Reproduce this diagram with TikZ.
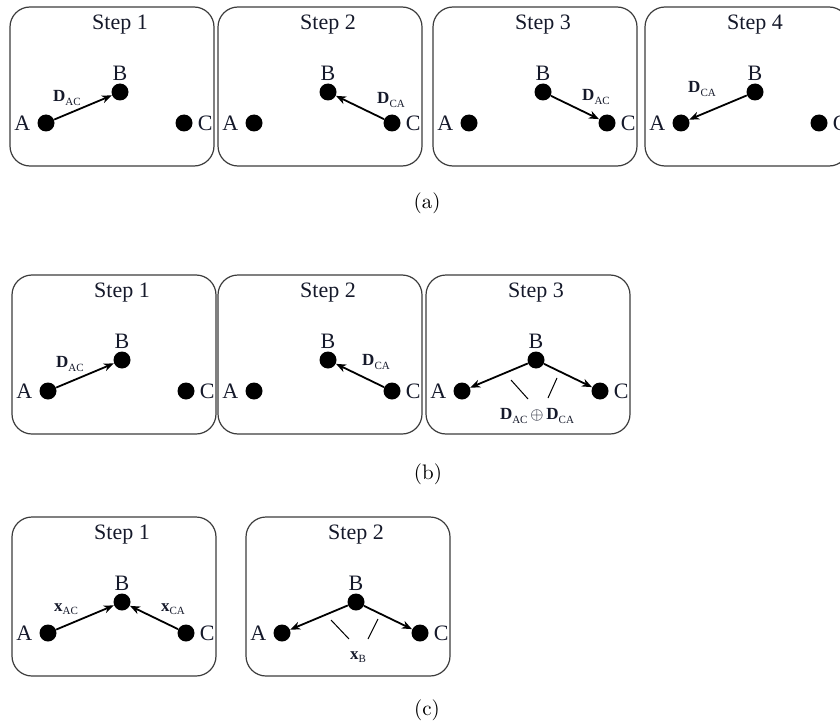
\documentclass[tikz,border=0pt]{standalone}
\usepackage{fontspec}
\newfontfamily\figfont{Liberation Serif}
\usepackage{xcolor}
\definecolor{ink}{HTML}{15192A}
\definecolor{frame}{HTML}{3C3C3C}
\usepackage{tikz}
\usetikzlibrary{calc,arrows.meta}
\newcommand{\vsub}[2]{\textbf{#1}\raisebox{-0.45ex}{\fontsize{5.5}{6}\selectfont #2}}

\begin{document}
\begin{tikzpicture}[x=0.5pt, y=-0.5pt,
    panel/.style={draw=frame, line width=0.6pt, rounded corners=10pt},
    dot/.style={circle, fill=black, inner sep=0pt, minimum size=8.5pt},
    tag/.style={font=\figfont\fontsize{11}{13}\selectfont, text=ink, inner sep=1pt},
    flow/.style={line width=0.9pt, -{Stealth[length=5pt, width=4pt, inset=1.5pt]}},
    vlab/.style={font=\figfont\fontsize{8.5}{10}\selectfont, text=ink, inner sep=0pt},
    tick/.style={line width=0.5pt}]
  \useasboundingbox (0,0) rectangle (840,722);

  % panels: name / step / left / top
  \foreach \id/\st/\xpos/\ypos in {a1/1/10/7, a2/2/218/7, a3/3/433/7, a4/4/645/7,
      b1/1/12/275, b2/2/218/275, b3/3/426/275, c1/1/12/517, c2/2/246/517} {
    \begin{scope}[shift={(\xpos,\ypos)}]
      \draw[panel] (0,0) rectangle (204,159);
      \node[tag] (\id-title) at (110,18) {Step \st};
      \node[dot, label={[tag, label distance=2.2pt]left:A}] (\id-A) at (36,116) {};
      \node[dot, label={[tag, label distance=0pt]above:B}] (\id-B) at (110,85) {};
      \node[dot, label={[tag, label distance=1.3pt]right:C}] (\id-C) at (174,116) {};
    \end{scope}
  }

  % (a) four single transfers
  \draw[flow] (a1-A) -- (a1-B);
  \node[vlab] (a1-lab) at ($(a1-A)+(21,-25)$) {\vsub{D}{AC}};
  \draw[flow] (a2-C) -- (a2-B);
  \node[vlab] (a2-lab) at ($(a2-C)+(-1,-23)$) {\vsub{D}{CA}};
  \draw[flow] (a3-B) -- (a3-C);
  \node[vlab] (a3-lab) at ($(a3-C)+(-11,-26)$) {\vsub{D}{AC}};
  \draw[flow] (a4-B) -- (a4-A);
  \node[vlab] (a4-lab) at ($(a4-A)+(21,-34)$) {\vsub{D}{CA}};

  % (b) XOR broadcast in step 3
  \draw[flow] (b1-A) -- (b1-B);
  \node[vlab] (b1-lab) at ($(b1-A)+(22,-27)$) {\vsub{D}{AC}};
  \draw[flow] (b2-C) -- (b2-B);
  \node[vlab] (b2-lab) at ($(b2-C)+(-16,-29)$) {\vsub{D}{CA}};
  \draw[flow] (b3-B) -- (b3-A);
  \draw[flow] (b3-B) -- (b3-C);
  \draw[tick] ($(b3-B)+(-25,20)$) -- ($(b3-B)+(-8,39)$);
  \draw[tick] ($(b3-B)+(21,18)$) -- ($(b3-B)+(12,38)$);
  \node[vlab] (b3-lab) at ($(b3-B)+(1,56)$) {\vsub{D}{AC}\,$\oplus$\,\vsub{D}{CA}};

  % (c) simultaneous uplink, then broadcast
  \draw[flow] (c1-A) -- (c1-B);
  \draw[flow] (c1-C) -- (c1-B);
  \node[vlab] (c1-labA) at ($(c1-A)+(18,-24)$) {\vsub{x}{AC}};
  \node[vlab] (c1-labC) at ($(c1-C)+(-13,-24)$) {\vsub{x}{CA}};
  \draw[flow] (c2-B) -- (c2-A);
  \draw[flow] (c2-B) -- (c2-C);
  \draw[tick] ($(c2-B)+(-25,18)$) -- ($(c2-B)+(-7,37)$);
  \draw[tick] ($(c2-B)+(22,17)$) -- ($(c2-B)+(12,37)$);
  \node[vlab] (c2-lab) at ($(c2-B)+(2,55)$) {\vsub{x}{B}};

  % captions
  \node[font=\fontsize{10.5}{12}\selectfont] (cap-a) at (427,203) {(a)};
  \node[font=\fontsize{10.5}{12}\selectfont] (cap-b) at (428,474) {(b)};
  \node[font=\fontsize{10.5}{12}\selectfont] (cap-c) at (427,710) {(c)};
\end{tikzpicture}
\end{document}
